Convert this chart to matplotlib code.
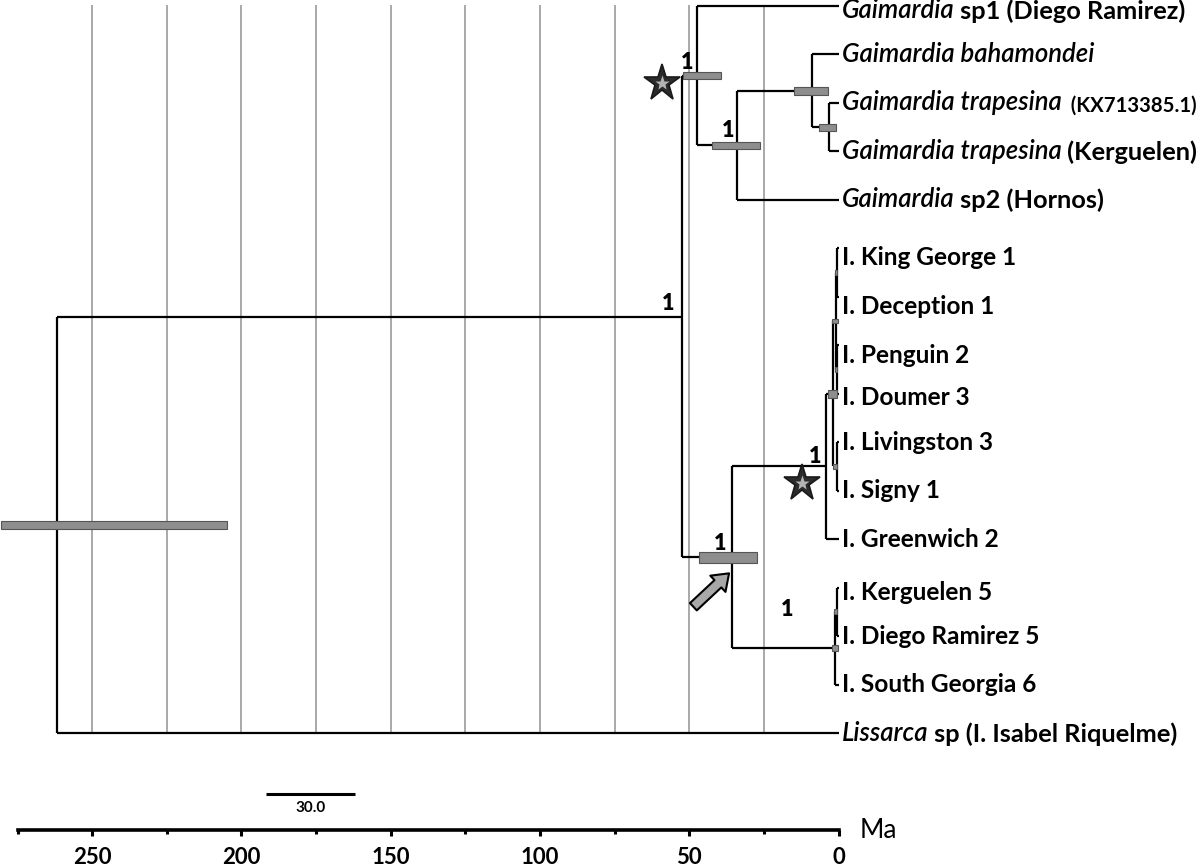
import matplotlib.pyplot as plt
from matplotlib.transforms import offset_copy

plt.rcParams['font.family'] = ['Lato', 'DejaVu Sans']

# tips, top to bottom (italic part, plain part)
tip_italic = ["Gaimardia", "Gaimardia bahamondei", "Gaimardia trapesina", "Gaimardia trapesina",
              "Gaimardia", "", "", "", "", "", "", "", "", "", "", "Lissarca"]
tip_plain = [" sp1 (Diego Ramirez)", "", "  (KX713385.1)", " (Kerguelen)", " sp2 (Hornos)",
             "I. King George 1", "I. Deception 1", "I. Penguin 2", "I. Doumer 3", "I. Livingston 3",
             "I. Signy 1", "I. Greenwich 2", "I. Kerguelen 5", "I. Diego Ramirez 5",
             "I. South Georgia 6", " sp (I. Isabel Riquelme)"]

# internal nodes, children before parents; ages in Ma
node_names = ["trap", "bah_trap", "gai_sub", "gai",
              "kg_dec", "pen_dou", "ant_a", "liv_sig", "ant_b", "ant",
              "ker_die", "subant", "ant_subant", "ingroup", "root"]
node_children = [[2, 3], [1, "trap"], ["bah_trap", 4], [0, "gai_sub"],
                 [5, 6], [7, 8], ["kg_dec", "pen_dou"], [9, 10], ["ant_a", "liv_sig"], ["ant_b", 11],
                 [12, 13], ["ker_die", 14], ["ant", "subant"], ["gai", "ant_subant"], ["ingroup", 15]]
node_age = [3.2, 9.0, 34.1, 47.3,
            0.5, 0.6, 1.0, 0.7, 1.8, 4.4,
            0.6, 1.2, 35.6, 52.4, 261.8]

# 95% HPD intervals (Ma)
hpd_nodes = ["trap", "bah_trap", "gai_sub", "gai", "kg_dec", "ant_a", "pen_dou", "liv_sig",
             "ant_b", "ker_die", "subant", "ant_subant", "root"]
hpd_lo = [0.9, 3.7, 26.3, 39.5, 0.5, 0.3, 0.5, 0.5, 0.7, 0.5, 0.1, 27.5, 204.9]
hpd_hi = [6.6, 15.0, 42.5, 52.1, 1.3, 2.1, 1.2, 1.8, 3.6, 1.6, 2.3, 46.8, 280.4]

# posterior probabilities
support_nodes = ["ingroup", "gai", "gai_sub", "ant", "ant_subant", "subant"]
support_vals = ["1", "1", "1", "1", "1", "1"]

axis_major = [0, 50, 100, 150, 200, 250]
axis_minor = [25, 75, 125, 175, 225]
grid_ages = [25, 50, 75, 100, 125, 150, 175, 200, 225, 250]
axis_end = 274.6
scale_len = 30.0

# layout: pixel scale of the figure
PX_PER_MA = 2.987
PX_PER_ROW = 48.47
X0_PX, Y0_PX = 838.7, 6.0
W, H = 1200, 867

fig = plt.figure(figsize=(W / 100, H / 100), dpi=100)
ax = fig.add_axes([0, 0, 1, 1])
ax.set_xlim(X0_PX / PX_PER_MA, (X0_PX - W) / PX_PER_MA)
ax.set_ylim((H - Y0_PX) / PX_PER_ROW, -Y0_PX / PX_PER_ROW)
ax.axis("off")

# tree layout
row = {i: float(i) for i in range(len(tip_plain))}
age = {i: 0.0 for i in range(len(tip_plain))}
for name, kids, a in zip(node_names, node_children, node_age):
    row[name] = (row[kids[0]] + row[kids[-1]]) / 2
    age[name] = a

last_row = len(tip_plain) - 1
ax.vlines(grid_ages, -0.02, last_row, color="#a3a3a3", lw=1.3, zorder=1)

line_kw = dict(color="black", lw=1.6, zorder=2)
for name, kids in zip(node_names, node_children):
    ax.vlines(age[name], row[kids[0]], row[kids[-1]], **line_kw)
    for k in kids:
        ax.hlines(row[k], age[name], age[k], **line_kw)

bar_h = {"ant_subant": 0.23, "kg_dec": 0.1, "ant_a": 0.1, "pen_dou": 0.1,
         "liv_sig": 0.1, "ker_die": 0.1, "subant": 0.12, "trap": 0.15}
for name, lo, hi in zip(hpd_nodes, hpd_lo, hpd_hi):
    ax.barh(row[name], hi - lo, left=lo, height=bar_h.get(name, 0.155),
            color="#8e8e8e", edgecolor="#555555", lw=0.8, zorder=3)

# support values
support_off = {"ingroup": (-14, 13.5), "gai": (-10, 12.7), "gai_sub": (-8.7, 14.6),
               "ant": (-10, 10.3), "ant_subant": (-12.3, 14), "subant": (-48, 39)}
for name, val in zip(support_nodes, support_vals):
    ax.annotate(val, xy=(age[name], row[name]), xytext=support_off[name],
                textcoords="offset pixels", ha="center", va="center",
                fontsize=15.5, fontweight="heavy", zorder=5)

# tip labels (hand-placed in the original; small vertical nudges in px)
label_nudge = {0: 5, 5: 9, 6: 10, 7: 10, 8: 4, 12: 5}
for i, (it, pl) in enumerate(zip(tip_italic, tip_plain)):
    small = pl.startswith("  (KX")
    dy = -label_nudge.get(i, 0)
    if it:
        t = ax.annotate(it, xy=(0, i), xytext=(3, dy), textcoords="offset pixels",
                        ha="left", va="center", fontsize=18.5, style="italic",
                        fontweight="semibold")
        if pl:
            ax.annotate(pl, xy=(1, 0), xycoords=t, ha="left", va="bottom",
                        fontsize=14.6 if small else 18.3, fontweight="bold")
    else:
        ax.annotate(pl, xy=(0, i), xytext=(3, dy), textcoords="offset pixels",
                    ha="left", va="center", fontsize=17.6, fontweight="bold")

# stars
for name, (dx, dy) in {"gai": (-35.6, -7), "ant": (-24, -17)}.items():
    tr = offset_copy(ax.transData, fig=fig, x=dx, y=dy, units="dots")
    ax.plot(age[name], row[name], marker="*", ms=28, mfc="#2b2b2b", mec="#1a1a1a",
            mew=1.2, transform=tr, zorder=6)
    ax.plot(age[name], row[name], marker="*", ms=11, mfc="#b4b4b4", mec="none",
            transform=tr, zorder=7)

# arrow to the ingroup crown node
c_age, c_row = age["ant_subant"], row["ant_subant"]
ax.annotate("", xy=(c_age + 3.3 / PX_PER_MA, c_row + 16 / PX_PER_ROW),
            xytext=(c_age + 39 / PX_PER_MA, c_row + 49.4 / PX_PER_ROW),
            arrowprops=dict(arrowstyle="simple,head_length=0.55,head_width=0.8,tail_width=0.36",
                            mutation_scale=20, fc="#a8a8a8", ec="black", lw=1.5,
                            shrinkA=0, shrinkB=0), zorder=6)

# scale bar
sb_right = 161.8
sb_row = 16.26
ax.hlines(sb_row, sb_right + scale_len, sb_right, color="black", lw=2.2)
ax.text(sb_right + scale_len / 2, sb_row + 0.29, f"{scale_len:.1f}", ha="center", va="center",
        fontsize=11, fontweight="bold")

# time axis
ay = (H - 830) / H
tax = fig.add_axes([0, ay, 1, 1e-4])
tax.set_xlim(ax.get_xlim())
tax.patch.set_visible(False)
for s in ("left", "right", "top"):
    tax.spines[s].set_visible(False)
tax.spines["bottom"].set_linewidth(2.6)
tax.spines["bottom"].set_bounds(0, axis_end)
tax.set_yticks([])
tax.set_xticks(axis_major)
tax.set_xticklabels([str(v) for v in axis_major], fontsize=16, fontweight="bold")
tax.set_xticks(axis_minor + [axis_end], minor=True)
tax.tick_params(axis="x", which="major", direction="out", length=4.5, width=2.2, pad=8)
tax.tick_params(axis="x", which="minor", direction="out", length=3, width=2.2)
ax.text(-7, (830 - Y0_PX) / PX_PER_ROW, "Ma", ha="left", va="center", fontsize=19)

fig.savefig("out.png", dpi=100)
